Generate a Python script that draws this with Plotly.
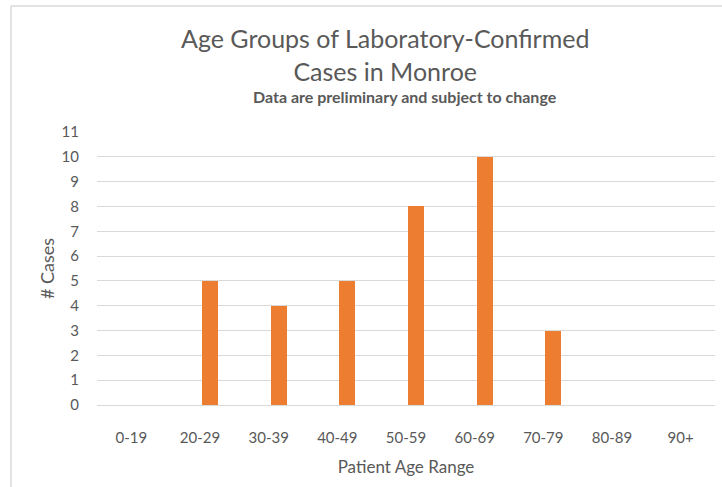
import plotly.graph_objects as go

categories = ["0-19", "20-29", "30-39", "40-49", "50-59", "60-69", "70-79", "80-89", "90+"]
cases = [0, 5, 4, 5, 8, 10, 3, 0, 0]
y_ticks = list(range(0, 12))

W, H = 722, 487
L, R, T, B = 97, 7, 132, 82
pw = W - L - R
ph = H - T - B

def px_x(p):
    return (p - L) / pw

def px_y(p):
    return 1 - (p - T) / ph

FONT = "Lato"
GREY = "#595959"

fig = go.Figure()
fig.add_trace(go.Bar(
    x=categories, y=cases,
    marker=dict(color="#ED7D31", line=dict(width=0)),
    width=0.23, offset=0.03,
    showlegend=False,
))

fig.update_layout(
    width=W, height=H,
    margin=dict(l=L, r=R, t=T, b=B, autoexpand=False),
    paper_bgcolor="white", plot_bgcolor="white",
    font=dict(family=FONT, color=GREY, size=15),
    xaxis=dict(
        type="category", showgrid=False, showline=False, zeroline=False,
        ticks="", tickfont=dict(size=15, color=GREY), ticklabelstandoff=22,
        title=dict(text="Patient Age Range", font=dict(size=17, color=GREY), standoff=16),
        range=[-0.5, 8.5],
    ),
    yaxis=dict(
        range=[0, 11], tickvals=y_ticks, showgrid=True, gridcolor="#d9d9d9",
        gridwidth=1, zeroline=True, zerolinecolor="#d9d9d9", zerolinewidth=1,
        showline=False, ticks="", ticklabelstandoff=17,
        tickfont=dict(size=15, color=GREY),
        title=dict(text="# Cases", font=dict(size=18, color=GREY), standoff=2),
    ),
    bargap=0.0,
)

fig.add_annotation(
    text="Age Groups of Laboratory-Confirmed<br>Cases in Monroe",
    xref="paper", yref="paper", x=px_x(385), y=px_y(21), xanchor="center", yanchor="top",
    showarrow=False, font=dict(family=FONT, size=25, color=GREY), align="center",
)
fig.add_annotation(
    text="<b>Data are preliminary and subject to change</b>",
    xref="paper", yref="paper", x=px_x(405), y=px_y(96.5), xanchor="center", yanchor="middle",
    showarrow=False, font=dict(family=FONT, size=16, color=GREY),
)

# outer chart border (top and left visible)
fig.add_shape(type="line", xref="paper", yref="paper",
              x0=px_x(11), x1=px_x(722), y0=px_y(6), y1=px_y(6),
              line=dict(color="#d9d9d9", width=1.5))
fig.add_shape(type="line", xref="paper", yref="paper",
              x0=px_x(11), x1=px_x(11), y0=px_y(6), y1=px_y(487),
              line=dict(color="#d9d9d9", width=1.5))

fig.write_html("out.html", config={"displayModeBar": False},
               post_script="document.body.style.margin='0';")
